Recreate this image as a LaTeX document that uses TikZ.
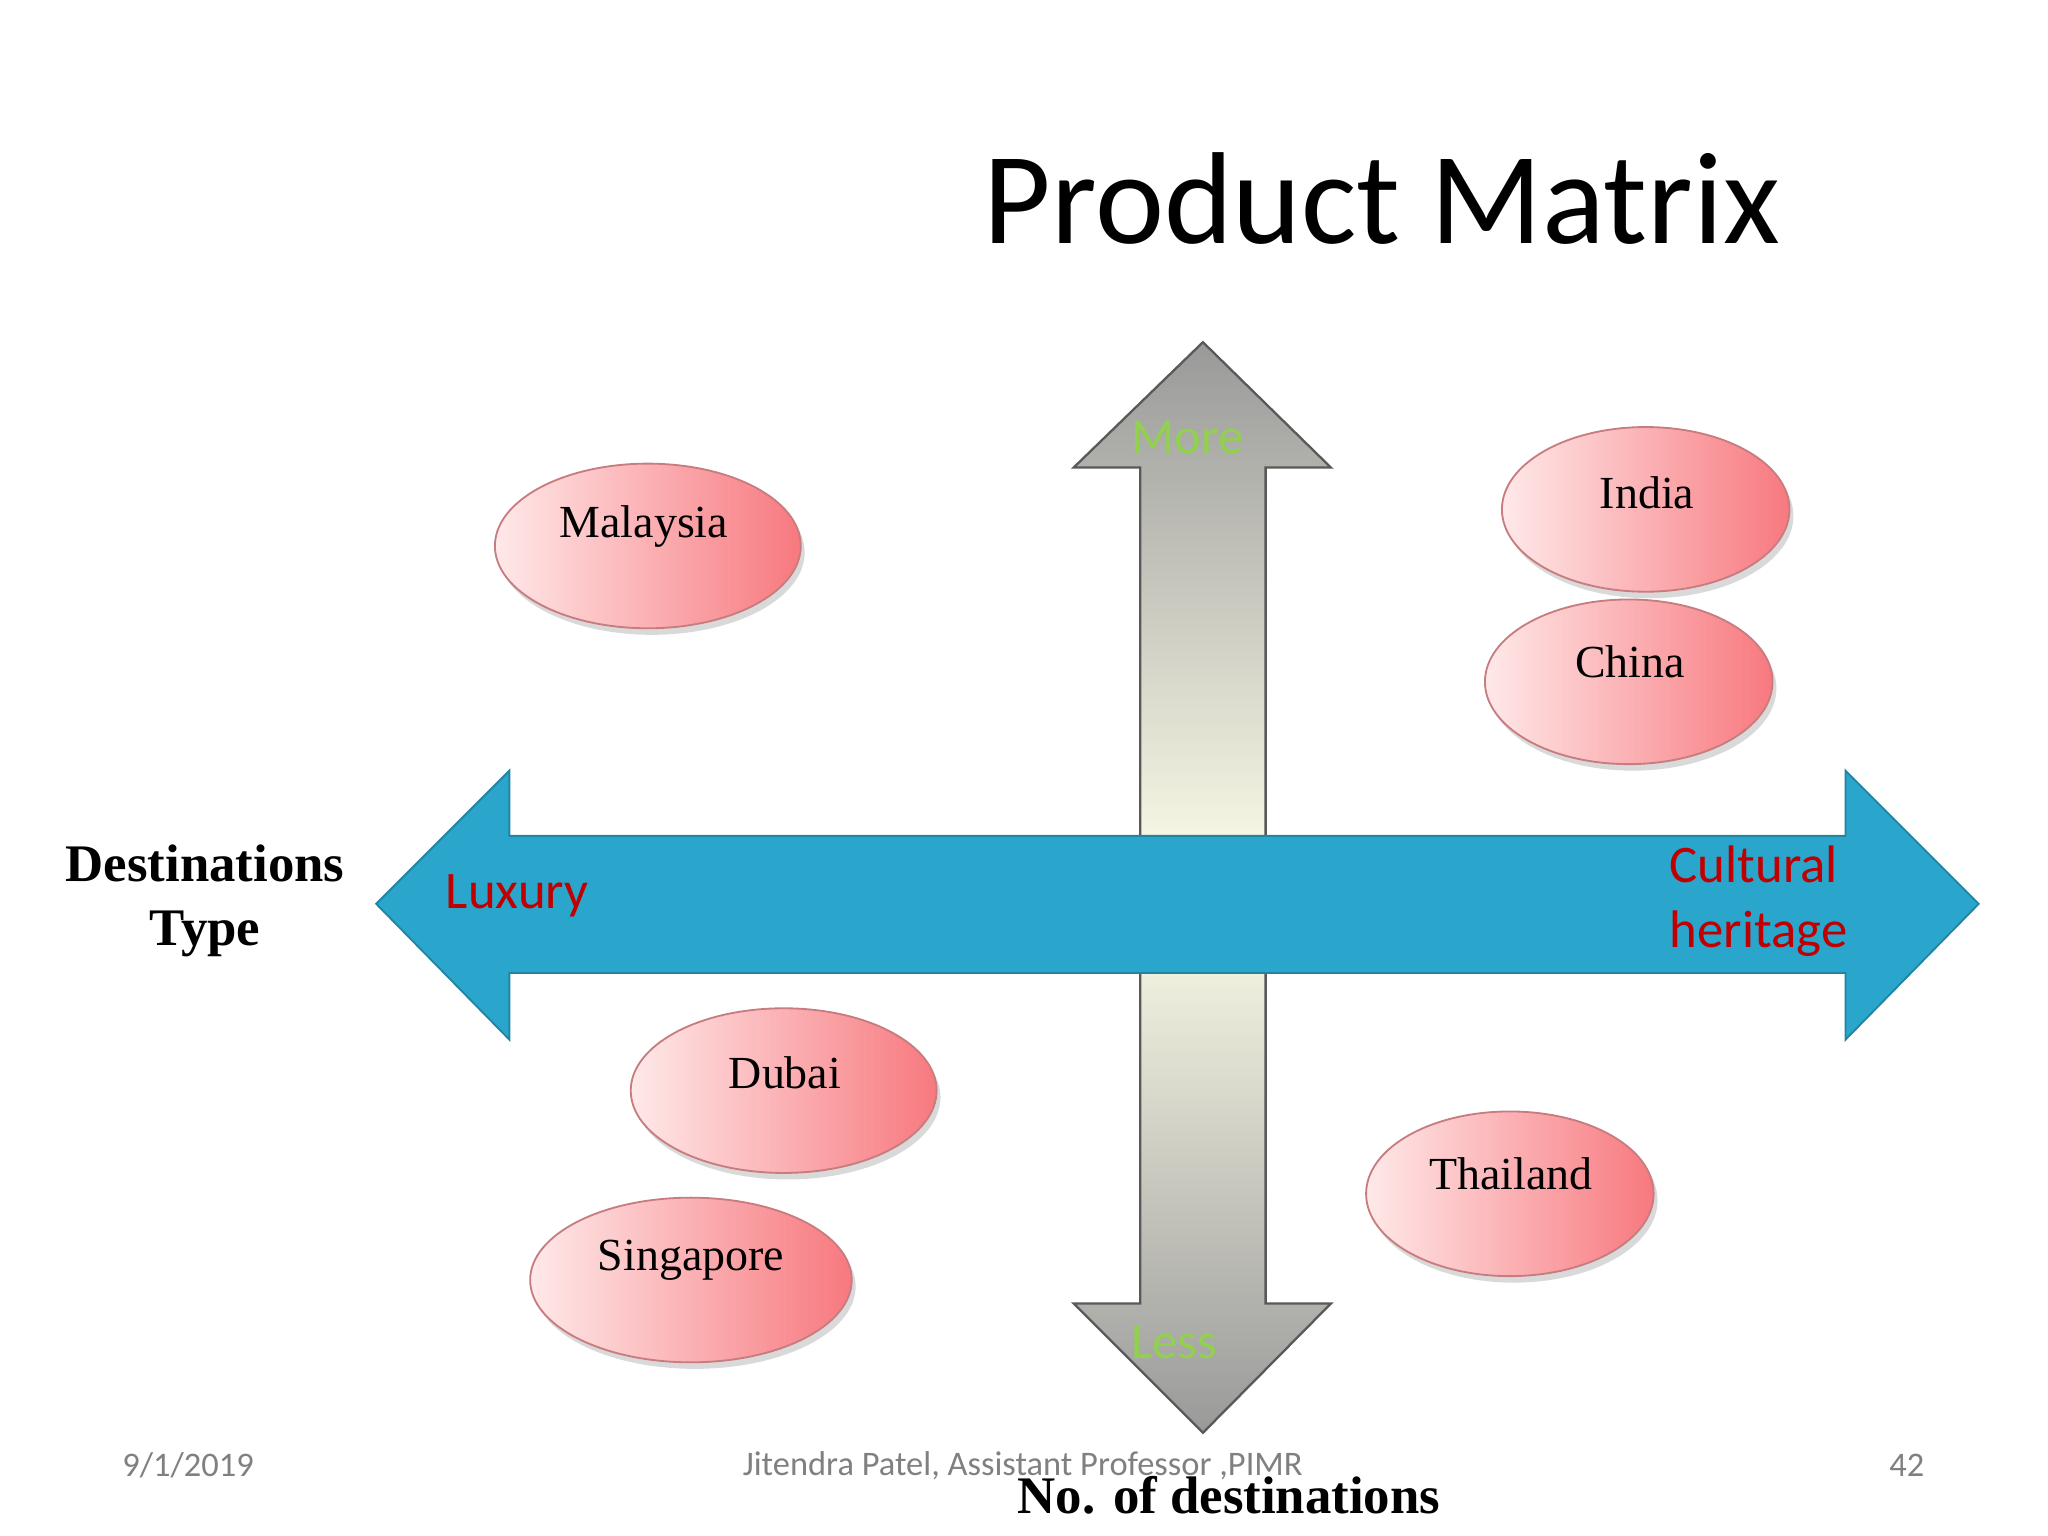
\documentclass[tikz,border=0pt]{standalone}
\usepackage{fontspec}
\setmainfont{Liberation Serif}
\newfontfamily\calfont{Carlito}
\usetikzlibrary{shapes.geometric,shadows}
\definecolor{pblue}{HTML}{2AA5CC}
\definecolor{pred}{HTML}{C00000}
\definecolor{pgreen}{HTML}{92D050}
\definecolor{salmon}{HTML}{F7797F}
\tikzset{
 dest/.style={ellipse,minimum width=0.02cm*#1,minimum height=1.26cm,inner sep=0pt,left color=pink!35!white,right color=salmon,draw=salmon!60!gray,line width=0.4pt,drop shadow={opacity=0.3,shadow xshift=0.03cm,shadow yshift=-0.05cm}},
 lbl/.style={font=\fontsize{10}{12}\selectfont,text=black},
}
\begin{document}
\begin{tikzpicture}[x=0.01cm,y=-0.01cm]
\useasboundingbox (0,0) rectangle (1568,1176);
\node[font=\calfont\fontsize{28.5}{34}\selectfont] (title) at (1058,152) {Product Matrix};
% vertical arrow
\path[top color=gray!80,bottom color=gray!80,middle color=yellow!8!white,draw=gray!70!black,line width=0.5pt]
 (921,262) -- (1019,358) -- (969,358) -- (969,998) -- (1019,998) -- (921,1097) -- (822,998) -- (873,998) -- (873,358) -- (822,358) -- cycle;
\node[font=\calfont\fontsize{11}{13}\selectfont,text=pgreen] (more) at (909,335) {More};
\node[font=\calfont\fontsize{11}{13}\selectfont,text=pgreen] (less) at (899,1028) {Less};
% horizontal arrow
\path[fill=pblue,draw=pblue!80!black,line width=0.4pt]
 (288,692) -- (390,590) -- (390,640) -- (1413,640) -- (1413,590) -- (1515,692) -- (1413,796) -- (1413,745) -- (390,745) -- (390,796) -- cycle;
\node[font=\calfont\fontsize{11.5}{14}\selectfont,text=pred] (lux) at (396,686) {Luxury};
\node[font=\calfont\fontsize{11.5}{14}\selectfont,text=pred,align=left,anchor=west] (cult) at (1266,690) {Cultural\\heritage};
\node[font=\bfseries\fontsize{11.5}{14}\selectfont,align=center] (dt) at (157,690) {Destinations\\Type};
% ellipses
\node[dest=117] (mal) at (496,418) {}; \node[lbl] at (493,403) {Malaysia};
\node[dest=110] (ind) at (1260,390) {}; \node[lbl] at (1261,377) {India};
\node[dest=110] (chn) at (1247,522) {}; \node[lbl] at (1248,507) {China};
\node[dest=117] (dub) at (600,835) {}; \node[lbl] at (601,821) {Dubai};
\node[dest=123] (sgp) at (529,980) {}; \node[lbl] at (529,965) {Singapore};
\node[dest=110] (tha) at (1156,914) {}; \node[lbl] at (1157,899) {Thailand};
% footer
\node[font=\calfont\fontsize{7.5}{9}\selectfont,text=gray] (date) at (144,1122) {9/1/2019};
\node[font=\calfont\fontsize{7.5}{9}\selectfont,text=gray] (auth) at (783,1122) {Jitendra Patel, Assistant Professor ,PIMR};
\node[font=\calfont\fontsize{7.5}{9}\selectfont,text=gray] (pg) at (1460,1122) {42};
\node[font=\bfseries\fontsize{11.5}{14}\selectfont] (nod) at (941,1145) {No. of destinations};
\end{tikzpicture}
\end{document}
